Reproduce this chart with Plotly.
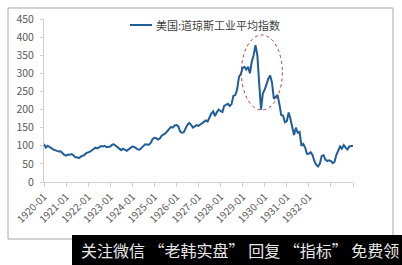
import plotly.graph_objects as go

# ---- data (monthly) ----
years = list(range(1920, 1934))
v1920 = [105, 95, 100, 96, 92, 90, 88, 85, 84, 85, 80, 75]
v1921 = [73, 76, 75, 77, 74, 68, 68, 66, 70, 72, 75, 80]
v1922 = [81, 84, 87, 92, 95, 93, 96, 99, 98, 100, 96, 98]
v1923 = [98, 103, 104, 100, 96, 90, 88, 92, 88, 86, 90, 94]
v1924 = [98, 97, 93, 90, 89, 93, 99, 104, 103, 103, 108, 118]
v1925 = [122, 121, 117, 120, 128, 130, 134, 140, 145, 152, 150, 156]
v1926 = [157, 154, 140, 136, 137, 148, 158, 163, 158, 150, 155, 157]
v1927 = [155, 160, 162, 166, 170, 167, 180, 189, 195, 182, 193, 200]
v1928 = [196, 193, 210, 214, 216, 210, 215, 238, 240, 255, 290, 298]
v1929 = [315, 318, 310, 318, 300, 332, 350, 378, 350, 273, 200, 245]
v1930 = [255, 270, 285, 294, 275, 230, 235, 240, 215, 185, 183, 165]
v1931 = [168, 192, 175, 150, 130, 150, 136, 138, 100, 105, 95, 78]
v1932 = [78, 82, 75, 58, 48, 43, 50, 72, 74, 62, 58, 60]
v1933 = [58, 52, 56, 75, 88, 98, 92, 102, 95, 90, 98, 100]
v1934 = [100]
yearly = [v1920, v1921, v1922, v1923, v1924, v1925, v1926, v1927,
          v1928, v1929, v1930, v1931, v1932, v1933]

dates, values = [], []
for y, vals in zip(years, yearly):
    for m, v in enumerate(vals, start=1):
        dates.append(f"{y}-{m:02d}-01")
        values.append(v)
dates.append("1934-01-01")
values.append(v1934[0])

series_name = "美国:道琼斯工业平均指数"
tick_years = list(range(1920, 1935))
tick_vals = [f"{y}-01-01" for y in tick_years]
tick_text = [f"{y}-01" if y <= 1932 else "" for y in tick_years]

# ellipse highlighting the crash (data coords)
ell_x = ["1928-12-10", "1930-10-20"]
ell_y = [199, 406]

banner_text = "关注微信 “老韩实盘” 回复 “指标” 免费领"

W, H = 402, 265
L, R, T, B = 44, 49, 19, 83
pw, ph = W - L - R, H - T - B


def px(x):
    return (x - L) / pw


def py(y):
    return (H - B - y) / ph


fig = go.Figure()
fig.add_trace(go.Scatter(x=dates, y=values, mode="lines", name=series_name,
                         line=dict(color="#1F5E98", width=2), showlegend=False))

fig.update_layout(
    width=W, height=H,
    margin=dict(l=L, r=R, t=T, b=B),
    paper_bgcolor="white", plot_bgcolor="white",
    font=dict(family="Noto Sans CJK SC, Noto Sans, sans-serif", size=10, color="#595959"),
    xaxis=dict(type="date", range=["1920-01-01", "1934-01-01"],
               tickmode="array", tickvals=tick_vals, ticktext=tick_text,
               tickangle=-45, ticks="outside", ticklen=4, tickcolor="#D0D0D0",
               showline=True, linecolor="#D0D0D0", linewidth=1,
               showgrid=False, zeroline=False, tickfont=dict(size=10)),
    yaxis=dict(range=[0, 450], dtick=50, ticks="outside", ticklen=3,
               tickcolor="#D0D0D0", showline=True, linecolor="#D0D0D0",
               showgrid=False, zeroline=False, ticklabelstandoff=4,
               tickfont=dict(size=10.5)),
    shapes=[
        dict(type="rect", xref="paper", yref="paper", x0=px(8), x1=px(393),
             y0=py(239), y1=py(8), line=dict(color="#A8A8A8", width=1), layer="below"),
        dict(type="circle", xref="x", yref="y", x0=ell_x[0], x1=ell_x[1],
             y0=ell_y[0], y1=ell_y[1], line=dict(color="#B03A3A", width=1, dash="dot")),
        dict(type="line", xref="paper", yref="paper", x0=px(130), x1=px(152),
             y0=py(25), y1=py(25), line=dict(color="#1F5E98", width=2)),
        dict(type="rect", xref="paper", yref="paper", x0=px(72), x1=px(403),
             y0=py(266), y1=py(235), fillcolor="black", line=dict(width=0)),
    ],
    annotations=[
        dict(xref="paper", yref="paper", x=px(154), y=py(25), xanchor="left",
             yanchor="middle", text=series_name, showarrow=False,
             font=dict(size=11, color="#404040")),
        dict(xref="paper", yref="paper", x=px(79), y=py(250), xanchor="left",
             yanchor="middle", text=banner_text, showarrow=False,
             font=dict(size=16, color="#E8E8E8")),
    ],
)

fig.write_html("out.html")
